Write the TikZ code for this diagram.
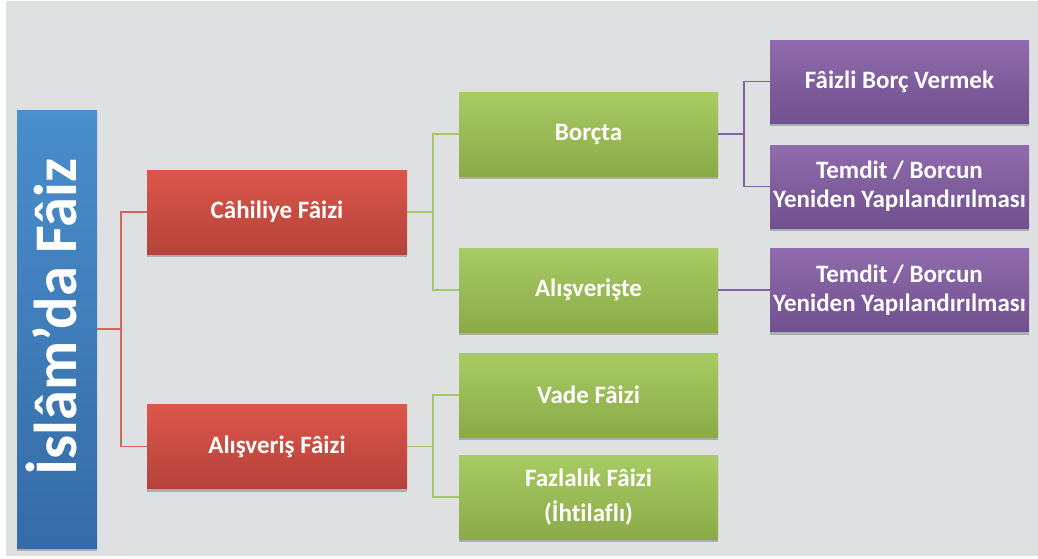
\documentclass[tikz,border=0pt]{standalone}
\usepackage{fontspec}
\setmainfont[Ligatures={NoCommon}]{Carlito}
\usetikzlibrary{shadows}
\definecolor{bg}{HTML}{DFE0E2}
\definecolor{blueT}{HTML}{4A8ECC}
\definecolor{blueB}{HTML}{356BA6}
\definecolor{redT}{HTML}{DC564A}
\definecolor{redB}{HTML}{B5423A}
\definecolor{greenT}{HTML}{A8CB63}
\definecolor{greenB}{HTML}{8AAA48}
\definecolor{purT}{HTML}{906BAD}
\definecolor{purB}{HTML}{70508E}
\definecolor{redL}{HTML}{D8655D}
\definecolor{greenL}{HTML}{A2C86A}
\definecolor{purL}{HTML}{8062A2}
\tikzset{
  box/.style={rectangle, inner sep=0pt, text=white, font=\bfseries\fontsize{25}{29}\selectfont,
    align=center, drop shadow={shadow xshift=0pt, shadow yshift=-3pt, opacity=0.35, fill=black!70}},
  rootbox/.style={box, top color=blueT, bottom color=blueB, minimum width=80pt, minimum height=438pt},
  redbox/.style={box, top color=redT, bottom color=redB, minimum width=260pt, minimum height=84pt},
  greenbox/.style={box, top color=greenT, bottom color=greenB, minimum width=259pt, minimum height=84pt},
  purbox/.style={box, top color=purT, bottom color=purB, minimum width=259pt, minimum height=83pt},
  redline/.style={draw=redL, line width=1.4pt},
  greenline/.style={draw=greenL, line width=1.4pt},
  purline/.style={draw=purL, line width=1.4pt}
}
\begin{document}
\begin{tikzpicture}[x=1pt,y=-1pt]
\fill[white] (0,0) rectangle (1038,558);
\fill[bg] (6,1) rectangle (1038,556);
\useasboundingbox (0,0) rectangle (1038,558);

\node[rootbox] (root) at (57,329) {};
\node[rotate=90, text=white, font=\bfseries\fontsize{60.5}{62}\selectfont] (roottxt) at (51,317) {İslâm’da Fâiz};

\node[redbox] (cah) at (277,212) {Câhiliye Fâizi};
\node[redbox] (alf) at (277,446.5) {Alışveriş Fâizi};

\node[greenbox] (bor) at (588.5,134) {Borçta};
\node[greenbox] (als) at (588.5,290) {Alışverişte};
\node[greenbox] (vad) at (588.5,395) {Vade Fâizi};
\node[greenbox, font=\bfseries\fontsize{25}{35}\selectfont] (faz) at (588.5,497) {Fazlalık Fâizi\\(İhtilaflı)};

\node[purbox] (fbv) at (899.5,81.5) {Fâizli Borç Vermek};
\node[purbox] (tem1) at (899.5,186.5) {Temdit / Borcun\\Yeniden Yapılandırılması};
\node[purbox] (tem2) at (899.5,290) {Temdit / Borcun\\Yeniden Yapılandırılması};

\coordinate (j0) at (121,329);
\coordinate (j1) at (433,212);
\coordinate (j2) at (433,446.5);
\coordinate (j3) at (744,134);

\draw[redline] (root.east |- j0) -- (j0);
\draw[redline] (j0) |- (cah.west);
\draw[redline] (j0) |- (alf.west);

\draw[greenline] (cah.east) -- (j1);
\draw[greenline] (j1) |- (bor.west);
\draw[greenline] (j1) |- (als.west);
\draw[greenline] (alf.east) -- (j2);
\draw[greenline] (j2) |- (vad.west);
\draw[greenline] (j2) |- (faz.west);

\draw[purline] (bor.east) -- (j3);
\draw[purline] (j3) |- (fbv.west);
\draw[purline] (j3) |- (tem1.west);
\draw[purline] (als.east) -- (tem2.west);
\end{tikzpicture}
\end{document}
